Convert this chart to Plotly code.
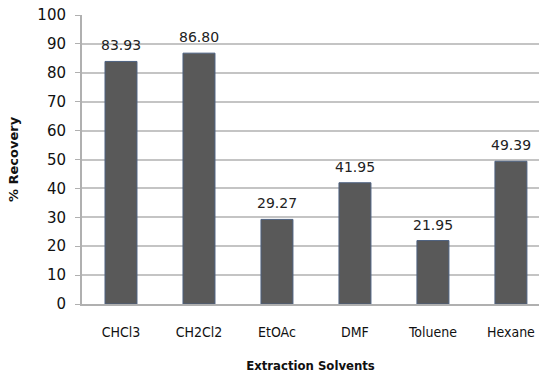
import plotly.graph_objects as go

solvents = ["CHCl3", "CH2Cl2", "EtOAc", "DMF", "Toluene", "Hexane"]
recovery = [83.93, 86.80, 29.27, 41.95, 21.95, 49.39]
y_ticks = [0, 10, 20, 30, 40, 50, 60, 70, 80, 90, 100]

fig = go.Figure()
fig.add_trace(go.Bar(
    x=list(range(len(solvents))),
    y=recovery,
    width=0.41,
    marker=dict(color="#595959", line=dict(color="#4d6180", width=1)),
    hoverinfo="skip",
))

# value labels above each bar
for i, v in enumerate(recovery):
    fig.add_annotation(x=i, y=v, text=f"{v:.2f}", showarrow=False,
                       yshift=16, font=dict(family="DejaVu Sans", size=14, color="#222"))

fig.update_layout(
    width=539, height=376,
    margin=dict(l=82, r=0, t=15, b=72),
    paper_bgcolor="white", plot_bgcolor="white",
    showlegend=False,
    font=dict(family="DejaVu Sans", color="#111"),
)
fig.update_xaxes(
    range=[-0.5, 5.36],
    tickmode="array", tickvals=list(range(len(solvents))), ticktext=solvents,
    tickfont=dict(family="DejaVu Sans Condensed", size=14),
    ticklabelstandoff=14,
    showline=True, linecolor="#b0b0b0", linewidth=2,
    ticks="", showgrid=False, zeroline=False,
    title=dict(text="<b>Extraction Solvents</b>", font=dict(family="DejaVu Sans Condensed", size=13), standoff=22),
)
fig.update_yaxes(
    range=[0, 100],
    tickmode="array", tickvals=y_ticks,
    tickfont=dict(family="DejaVu Sans", size=15),
    ticklabelstandoff=6,
    showline=True, linecolor="#b0b0b0", linewidth=2,
    ticks="outside", ticklen=5, tickcolor="#b0b0b0",
    showgrid=True, gridcolor="#c4c4c4", gridwidth=1.5, zeroline=False,
    title=dict(text="<b>% Recovery</b>", font=dict(family="DejaVu Sans", size=13), standoff=16),
)

fig.write_html("out.html")
